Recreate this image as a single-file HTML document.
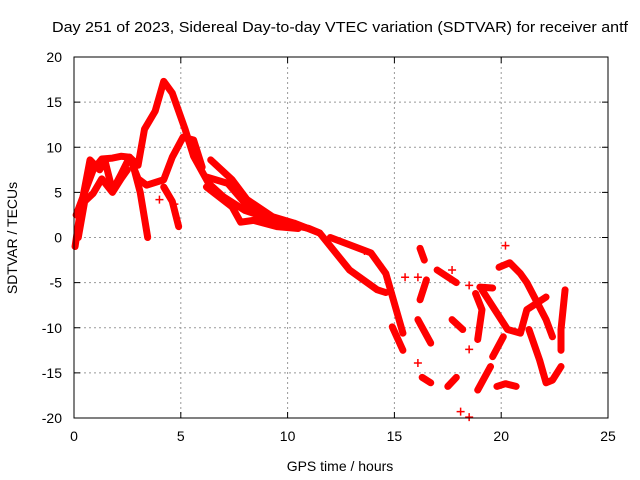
<!DOCTYPE html>
<html><head><meta charset="utf-8"><style>
body{margin:0;background:#fff}
svg{display:block;font-family:"Liberation Sans",sans-serif}
</style></head><body>
<svg id="chart" width="640" height="480" viewBox="0 0 640 480">
<text x="52" y="32" font-size="15" textLength="576" lengthAdjust="spacingAndGlyphs">Day 251 of 2023, Sidereal Day-to-day VTEC variation (SDTVAR) for receiver antf</text>
<text transform="translate(17,238) rotate(-90)" font-size="14" text-anchor="middle">SDTVAR / TECUs</text>
<text x="340" y="471" font-size="14" text-anchor="middle">GPS time / hours</text>
<g id="grid"></g><g id="ticks"></g><g id="marks"></g>
<rect x="74" y="57" width="534" height="361" fill="none" stroke="#000" stroke-width="1"/>
</svg>
<script>
const xTicks=[0,5,10,15,20,25];
const yTicks=[-20,-15,-10,-5,0,5,10,15,20];
const tracks=[
 [[0.05,-1],[0.3,3],[0.75,8.6],[1.2,7.5],[1.45,8.5],[1.8,5.2],[2.2,7],[2.6,8.9],[3.0,8],[3.3,12],[3.8,14],[4.2,17.3],[4.6,16],[5.2,12],[5.6,9],[6.3,6],[7.0,4.5],[8.0,3],[9.0,2.2],[10.0,1.5],[11.0,1],[11.5,0.5],[12.9,-3.6],[14.2,-5.8],[14.6,-6.1]],
 [[0.1,2.5],[0.5,5],[0.9,7.5],[1.3,8.7],[1.8,8.8],[2.2,9],[2.6,8.9],[3.0,6.5],[3.4,5.8],[4.2,6.4],[4.6,8.9],[5.1,11.1],[5.6,10.8],[6.0,7.8]],
 [[0.2,0],[0.5,4],[0.9,4.9],[1.3,6.5],[1.8,5],[2.2,6.5],[2.5,7.5]],
 [[2.7,8.6],[3.1,5],[3.45,0]],
 [[4.2,5.6],[4.6,4],[4.9,1.2]],
 [[6.4,8.6],[7.4,6.4],[8.1,4.2],[9.3,2.3],[10.3,1.6],[11.5,0.5]],
 [[6.2,5.6],[7.4,3.4],[7.8,1.7],[8.4,1.9],[9.5,1.2],[10.5,1.0]],
 [[6.2,6.7],[7.2,6],[8.0,3.8],[9.0,2.4]],
 [[12.0,0],[13.9,-1.7],[14.6,-4],[15.4,-10.6]],
 [[14.9,-9.9],[15.4,-12.5]],
 [[16.2,-1.2],[16.4,-2.5]],
 [[16.5,-4.7],[16.2,-6.9]],
 [[16.1,-9.1],[16.7,-11.7]],
 [[16.3,-15.5],[16.7,-16.1]],
 [[17.5,-16.5],[17.9,-15.5]],
 [[17.0,-3.6],[17.9,-5]],
 [[17.7,-9.1],[18.2,-10.2]],
 [[19.0,-5.5],[19.6,-5.6]],
 [[19.9,-3.3],[20.4,-2.8],[20.9,-4],[21.2,-5],[22.1,-9.1],[22.4,-11]],
 [[18.9,-11.3],[19.1,-8],[18.8,-6.2]],
 [[19.1,-5.8],[20.3,-10.2],[20.9,-10.6],[21.2,-8],[22.1,-6.6]],
 [[21.3,-10.2],[21.8,-13.6],[22.1,-16.1],[22.4,-15.8],[22.8,-14.3]],
 [[22.99,-5.8],[22.8,-10.2],[22.8,-12.5]],
 [[18.9,-16.9],[19.5,-14.3]],
 [[19.6,-13.2],[20.1,-11]],
 [[19.8,-16.5],[20.2,-16.2],[20.7,-16.5]]
];
const scatterH=[18.1,18.5,20.2,18.5,18.5,16.1,16.1,15.5,17.7,14.3,13.6,4.0,4.7];
const scatterV=[-19.3,-19.9,-0.9,-5.3,-12.4,-13.9,-4.4,-4.4,-3.6,-3.0,-1.5,4.2,3.7];
const X=h=>74+h*21.36, Y=v=>237.5-v*9.025;
const NS="http://www.w3.org/2000/svg";
const grid=document.getElementById('grid'),ticks=document.getElementById('ticks'),marks=document.getElementById('marks');
function mk(t,a,p){const e=document.createElementNS(NS,t);for(const k in a)e.setAttribute(k,a[k]);p.appendChild(e);return e;}
xTicks.forEach(t=>{const x=X(t);
 if(t>0&&t<25){const g=mk('line',{x1:x,y1:57,x2:x,y2:418,stroke:'#999','stroke-dasharray':'2,3'},grid);
 
 }
 mk('line',{x1:x,y1:418,x2:x,y2:412,stroke:'#000'},ticks);mk('line',{x1:x,y1:57,x2:x,y2:63,stroke:'#000'},ticks);
 const l=mk('text',{x:x,y:441,'font-size':14,'text-anchor':'middle'},ticks);l.textContent=t;
 
 });
yTicks.forEach(t=>{const y=Y(t);
 if(t>-20&&t<20){const g=mk('line',{x1:74,y1:y,x2:608,y2:y,stroke:'#999','stroke-dasharray':'2,3'},grid);
 
 }
 mk('line',{x1:74,y1:y,x2:80,y2:y,stroke:'#000'},ticks);mk('line',{x1:608,y1:y,x2:602,y2:y,stroke:'#000'},ticks);
 const l=mk('text',{x:62,y:y+5,'font-size':14,'text-anchor':'end'},ticks);l.textContent=t;
 
 });
tracks.forEach((tr,i)=>{const p=mk('polyline',{points:tr.map(d=>X(d[0])+','+Y(d[1])).join(' '),fill:'none',stroke:'#f00','stroke-width':7,'stroke-linejoin':'round','stroke-linecap':'round'},marks);
 
 });
scatterH.forEach((h,i)=>{const x=X(h),y=Y(scatterV[i]);
 const p=mk('path',{d:`M${x-4},${y}H${x+4}M${x},${y-4}V${y+4}`,stroke:'#f00','stroke-width':1.5},marks);
 
 });
</script>
</body></html>
